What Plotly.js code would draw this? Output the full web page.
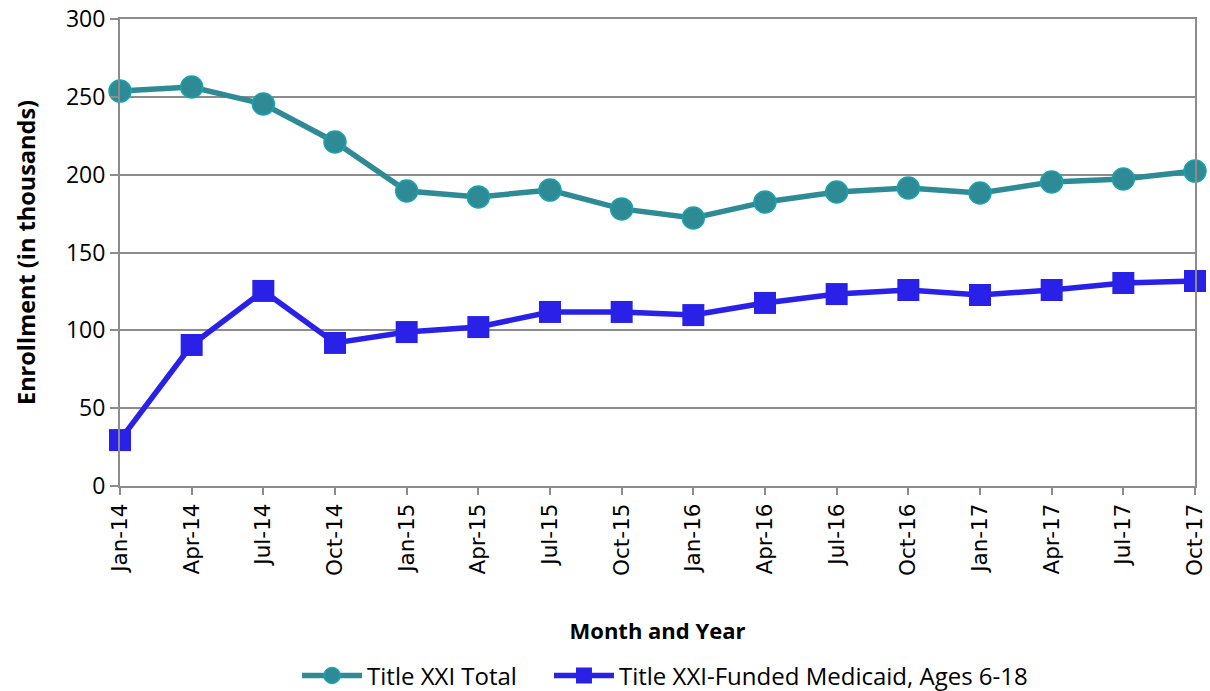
<!DOCTYPE html>
<html>
<head>
<meta charset="utf-8">
<script src="https://cdn.plot.ly/plotly-3.0.1.min.js"></script>
<style>html,body{margin:0;padding:0;background:#fff;}#chart{width:1210px;height:691px;}</style>
</head>
<body>
<div id="chart"></div>
<script>
const months = ["Jan-14","Apr-14","Jul-14","Oct-14","Jan-15","Apr-15","Jul-15","Oct-15","Jan-16","Apr-16","Jul-16","Oct-16","Jan-17","Apr-17","Jul-17","Oct-17"];
const titleTotal = [253.7,256.3,245.4,221,189.5,185.7,190.1,178,172.2,182.4,188.9,191.4,188.2,195.3,197.2,202.3];
const medicaid618 = [29.5,90.6,125.3,91.9,98.9,102.1,111.8,111.8,109.8,117.6,123.3,125.9,122.7,125.9,130.4,131.7];
const yTicks = [0,50,100,150,200,250,300];

const font = "Open Sans, Noto Sans, sans-serif";
const traces = [
  {x: months, y: titleTotal, name: "Title XXI Total", type: "scatter", mode: "lines+markers",
   line: {color: "#2E8B96", width: 5.5},
   marker: {symbol: "circle", size: 22, color: "#2E8B96", line: {color: "#1AA3AF", width: 1.5}},
   cliponaxis: false, legend: "legend"},
  {x: months, y: medicaid618, name: "Title XXI-Funded Medicaid, Ages 6-18", type: "scatter", mode: "lines+markers",
   line: {color: "#2A21E8", width: 5.5},
   marker: {symbol: "square", size: 22, color: "#2A21E8", line: {color: "#2A21E8", width: 0}},
   cliponaxis: false, legend: "legend2"}
];
const legendBase = {orientation: "h", xref: "container", xanchor: "left",
                    yref: "container", y: 0.022, yanchor: "middle",
                    font: {family: font, size: 24}, itemwidth: 60, bgcolor: "rgba(0,0,0,0)"};
const layout = {
  width: 1210, height: 691,
  margin: {l: 120, r: 15, t: 19, b: 205},
  paper_bgcolor: "#fff", plot_bgcolor: "#fff",
  font: {family: font, color: "#000", size: 21},
  showlegend: true,
  legend: Object.assign({}, legendBase, {x: 0.2455}),
  legend2: Object.assign({}, legendBase, {x: 0.4537}),
  xaxis: {type: "category", range: [0, months.length - 1], tickangle: -90, automargin: false,
          showgrid: false, showline: true, linecolor: "#8C8C8C", linewidth: 2, mirror: true,
          ticks: "outside", ticklen: 7, tickcolor: "#8C8C8C", tickwidth: 2,
          tickfont: {family: "DejaVu Sans, sans-serif", size: 21.5},
          title: {text: "<b>Month and Year</b>", font: {family: font, size: 22}, standoff: 49}},
  yaxis: {range: [0, 300], tickvals: yTicks, ticktext: yTicks.map(String), automargin: false,
          showgrid: true, gridcolor: "#8C8C8C", gridwidth: 2, zeroline: false,
          showline: true, linecolor: "#8C8C8C", linewidth: 2, mirror: true,
          ticks: "outside", ticklen: 8, tickcolor: "#8C8C8C", tickwidth: 2,
          tickfont: {family: font, size: 23},
          title: {text: "<b>Enrollment (in thousands)</b>", font: {family: font, size: 23.5}, standoff: 24}}
};
Plotly.newPlot("chart", traces, layout, {displayModeBar: false, staticPlot: true});
</script>
</body>
</html>
